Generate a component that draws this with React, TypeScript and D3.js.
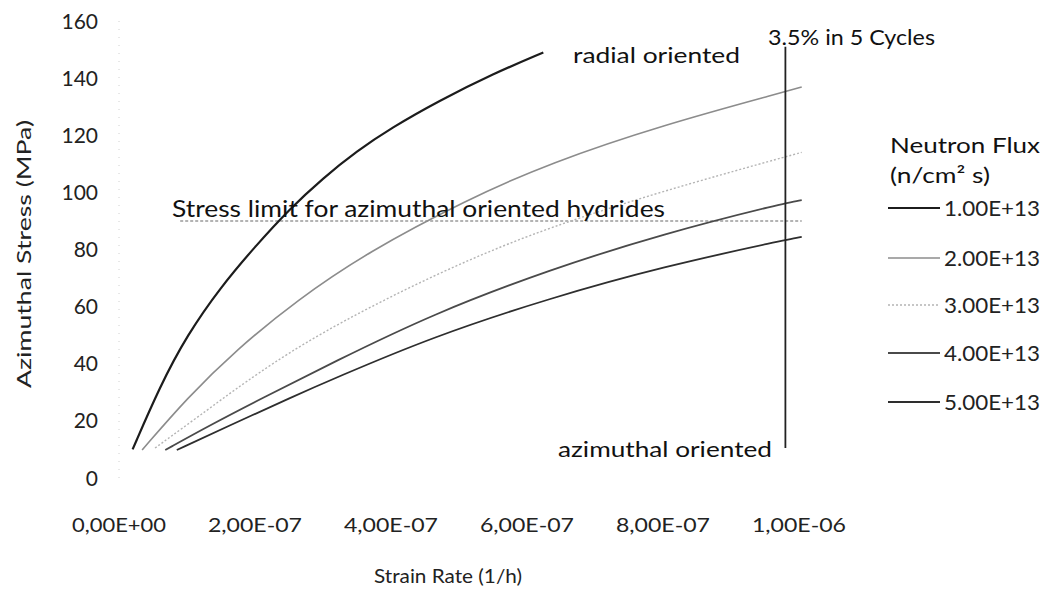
import React from "react";
import * as d3 from "d3";

// ---- data (strain rate in units of 1e-6 1/h, stress in MPa) ----
const fluxLabels = ["1.00E+13", "2.00E+13", "3.00E+13", "4.00E+13", "5.00E+13"];

const strain1 = [0.02, 0.06, 0.10, 0.15, 0.20, 0.25, 0.30, 0.35, 0.40, 0.47, 0.55, 0.624];
const stress1 = [10, 32, 50, 67, 81, 94, 105, 114.5, 122.5, 132, 141.5, 149];

const strain2 = [0.034, 0.10, 0.173, 0.262, 0.365, 0.512, 0.634, 0.8, 0.979, 1.004];
const stress2 = [9.8, 28, 45, 62.3, 79, 97.5, 110.3, 123.6, 135.2, 136.9];

const strain3 = [0.053, 0.134, 0.182, 0.271, 0.388, 0.512, 0.634, 0.8, 0.979, 1.004];
const stress3 = [10.5, 24.5, 33, 47.3, 62.3, 76.3, 87.9, 100.5, 112.4, 114];

const strain4 = [0.068, 0.134, 0.207, 0.315, 0.462, 0.634, 0.8, 0.979, 1.004];
const stress4 = [9.8, 18.5, 27.5, 40.5, 57.5, 73, 85.5, 96.3, 97.3];

const strain5 = [0.085, 0.159, 0.256, 0.315, 0.462, 0.634, 0.8, 0.979, 1.004];
const stress5 = [9.8, 18, 28.5, 34.7, 49.5, 63, 74, 83.3, 84.4];

const xTicks = [0, 0.2, 0.4, 0.6, 0.8, 1.0];
const xTickLabels = ["0,00E+00", "2,00E-07", "4,00E-07", "6,00E-07", "8,00E-07", "1,00E-06"];
const yTicks = [0, 20, 40, 60, 80, 100, 120, 140, 160];

const stressLimit = 90;
const stressLimitRange = [0.09, 1.004];
const cycleLineX = 0.98;
const cycleLineRange = [10.5, 151];

const seriesStyles = [
  { color: "#1c1c1c", width: 2.2, dash: "" },
  { color: "#8c8c8c", width: 1.6, dash: "" },
  { color: "#b4b4b4", width: 1.4, dash: "2,2" },
  { color: "#4a4a4a", width: 1.8, dash: "" },
  { color: "#2e2e2e", width: 1.8, dash: "" },
];

export default function App() {
  const W = 1047;
  const H = 591;
  const x = d3.scaleLinear().domain([0, 1.0]).range([119, 799]);
  const y = d3.scaleLinear().domain([0, 160]).range([478, 21]);

  const series = [
    [strain1, stress1],
    [strain2, stress2],
    [strain3, stress3],
    [strain4, stress4],
    [strain5, stress5],
  ];

  const line = d3
    .line<[number, number]>()
    .x((d) => x(d[0]))
    .y((d) => y(d[1]))
    .curve(d3.curveBasis);

  const font = "Lato, 'Open Sans', sans-serif";
  const legendY = [208, 258, 305, 353, 402];

  return (
    <div style={{ position: "absolute", left: 0, top: 0 }}>
      <svg width={W} height={H} style={{ display: "block", background: "#fff" }} fontFamily={font}>
        {/* faint y axis */}
        <line x1={x(0)} x2={x(0)} y1={y(0)} y2={y(160)} stroke="#d0d0d0" strokeWidth={1} strokeDasharray="1,7" />

        {/* y tick labels */}
        {yTicks.map((t) => (
          <text key={t} x={98} y={y(t)} dy="0.36em" textAnchor="end" fontSize={21} fill="#222">
            {t}
          </text>
        ))}
        {/* x tick labels */}
        {xTicks.map((t, i) => (
          <text key={t} x={x(t)} y={532} textAnchor="middle" fontSize={20} fill="#222" textLength={94} lengthAdjust="spacingAndGlyphs">
            {xTickLabels[i]}
          </text>
        ))}

        {/* axis titles */}
        <text
          transform={`translate(31,254) rotate(-90)`}
          textAnchor="middle"
          fontSize={20}
          fill="#222"
          textLength={268}
          lengthAdjust="spacingAndGlyphs"
        >
          Azimuthal Stress  (MPa)
        </text>
        <text x={448} y={583} textAnchor="middle" fontSize={20} fill="#222" textLength={148} lengthAdjust="spacingAndGlyphs">
          Strain Rate  (1/h)
        </text>

        {/* stress limit line */}
        <line
          x1={x(stressLimitRange[0])}
          x2={x(stressLimitRange[1])}
          y1={y(stressLimit)}
          y2={y(stressLimit)}
          stroke="#9a9a9a"
          strokeWidth={1.6}
          strokeDasharray="3,2"
        />

        {/* series */}
        {series.map((s, i) => {
          const pts = s[0].map((v, j) => [v, s[1][j]] as [number, number]);
          const st = seriesStyles[i];
          return (
            <path
              key={i}
              d={line(pts) || ""}
              fill="none"
              stroke={st.color}
              strokeWidth={st.width}
              strokeDasharray={st.dash}
            />
          );
        })}

        {/* 3.5% in 5 cycles vertical line */}
        <line
          x1={x(cycleLineX)}
          x2={x(cycleLineX)}
          y1={y(cycleLineRange[0])}
          y2={y(cycleLineRange[1])}
          stroke="#222"
          strokeWidth={1.8}
        />

        {/* annotations */}
        <text x={573} y={63} fontSize={22} fill="#111" textLength={167} lengthAdjust="spacingAndGlyphs">
          radial oriented
        </text>
        <text x={768} y={45} fontSize={22} fill="#111" textLength={167} lengthAdjust="spacingAndGlyphs">
          3.5% in 5 Cycles
        </text>
        <text x={172} y={217} fontSize={23} fill="#111" textLength={493} lengthAdjust="spacingAndGlyphs">
          Stress limit for azimuthal oriented hydrides
        </text>
        <text x={558} y={457} fontSize={22} fill="#111" textLength={214} lengthAdjust="spacingAndGlyphs">
          azimuthal oriented
        </text>

        {/* legend */}
        <text x={890} y={153} fontSize={22} fill="#111" textLength={150} lengthAdjust="spacingAndGlyphs">
          Neutron Flux
        </text>
        <text x={890} y={183} fontSize={22} fill="#111" textLength={100} lengthAdjust="spacingAndGlyphs">
          (n/cm² s)
        </text>
        {fluxLabels.map((lab, i) => {
          const st = seriesStyles[i];
          return (
            <g key={lab}>
              <line
                x1={888}
                x2={940}
                y1={legendY[i]}
                y2={legendY[i]}
                stroke={st.color}
                strokeWidth={st.width}
                strokeDasharray={st.dash}
              />
              <text x={944} y={legendY[i]} dy="0.36em" fontSize={21} fill="#222" textLength={96} lengthAdjust="spacingAndGlyphs">
                {lab}
              </text>
            </g>
          );
        })}
      </svg>
    </div>
  );
}
